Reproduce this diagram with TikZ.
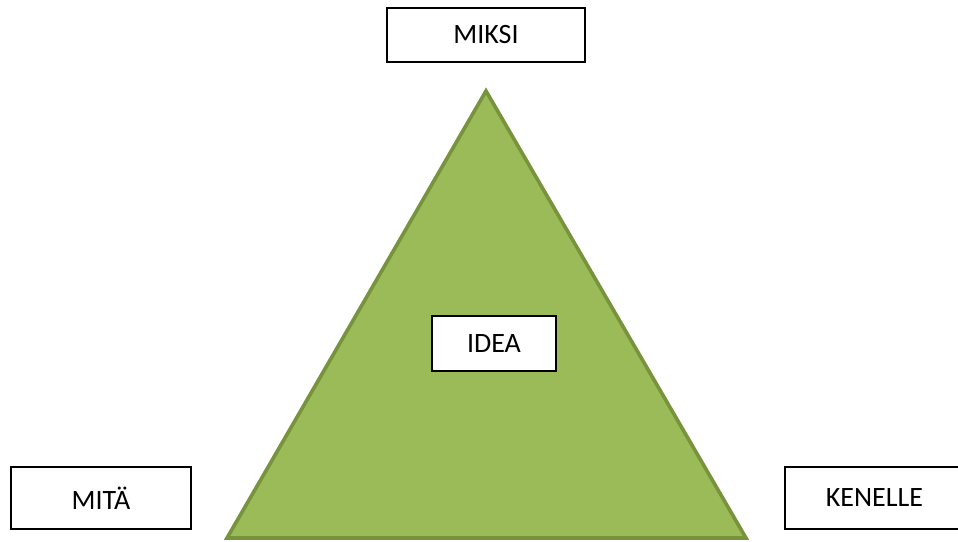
\documentclass[tikz,border=0pt]{standalone}
\usepackage{fontspec}
\setmainfont{Carlito}
\definecolor{leaf}{HTML}{9BBB59}
\definecolor{leafedge}{HTML}{77933C}
\begin{document}
\begin{tikzpicture}[x=1pt,y=-1pt,
  label box/.style={draw=black, line width=1.3pt, fill=white, inner sep=0pt,
    font=\fontsize{28}{32}\selectfont, text=black}]
\useasboundingbox (0,0) rectangle (958,541);
\begin{scope}
\clip (0,0) rectangle (958,541);
% the idea triangle
\draw[fill=leaf, draw=leafedge, line width=3.6pt, line join=miter]
  (486,91) coordinate (apex) -- (227,538) coordinate (left) -- (746,538) coordinate (right) -- cycle;
% corner labels
\node[label box, minimum width=198pt, minimum height=54pt] (miksi) at (486,35) {MIKSI};
\node[label box, minimum width=124pt, minimum height=55pt] (idea) at (494,343.5) {IDEA};
\node[label box, minimum width=180pt, minimum height=62pt] (mita) at (101,498) {MITÄ};
\node[label box, minimum width=179pt, minimum height=62pt] (kenelle) at (874.5,498) {KENELLE};
\end{scope}
\end{tikzpicture}
\end{document}
